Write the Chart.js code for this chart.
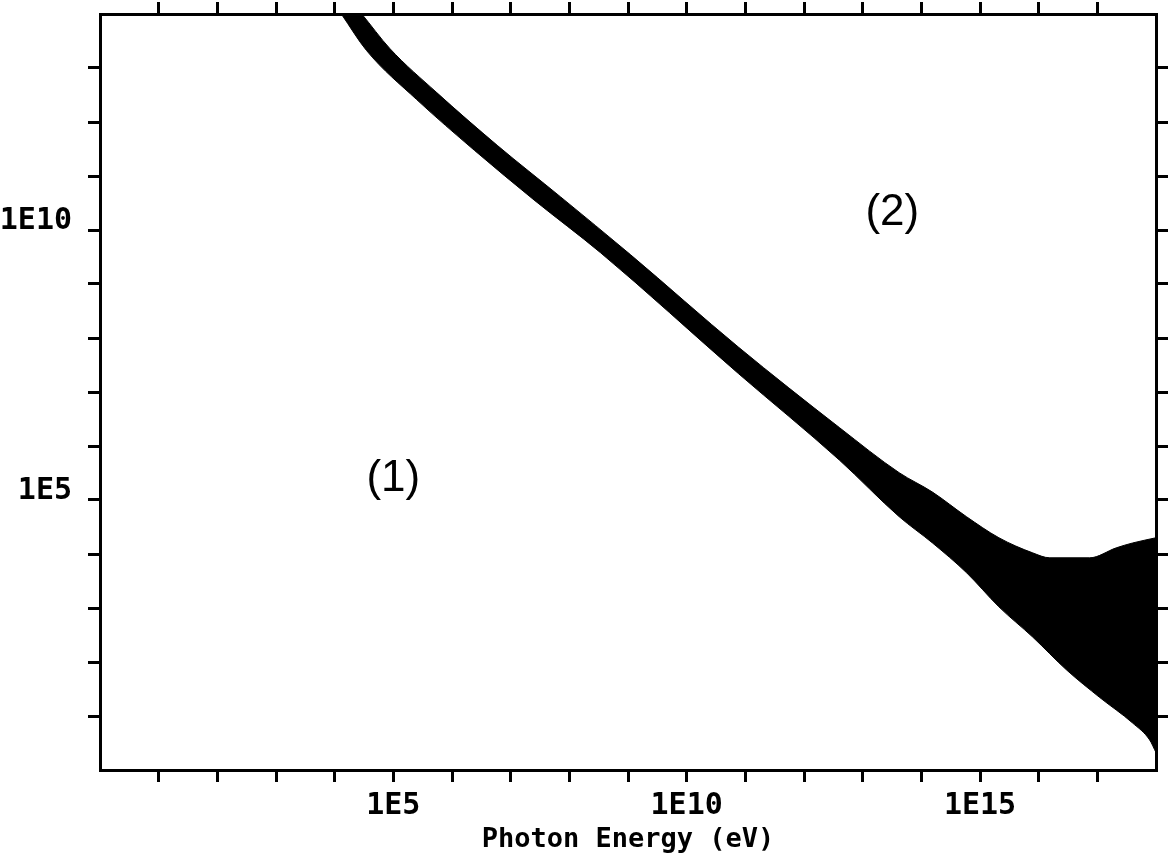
<!DOCTYPE html>
<html>
<head>
<meta charset="utf-8">
<title>Photon Energy</title>
<script src="https://cdn.jsdelivr.net/npm/chart.js@4.4.1/dist/chart.umd.min.js"></script>
<style>
  html, body { margin: 0; padding: 0; background: #fff; }
  #wrap { width: 1172px; height: 865px; }
</style>
</head>
<body>
<div id="wrap"><canvas id="chart"></canvas></div>
<script>
// upper edge of the black band (x = photon energy in eV)
var upperEnergy = [1.3e4, 2.9e4, 8.7e4, 5.5e5, 5.9e6, 7.1e7, 1.1e9, 7.6e10, 4.0e12, 4.2e13,
                   1.55e14, 5.9e14, 2.1e15, 7.9e15, 1.55e16, 7.4e16, 2.1e17, 4.0e17, 1e18];
var upperValue  = [2.8e14, 1e14, 2.3e13, 3.5e12, 3.7e11, 4.1e10, 3.5e9, 6.8e7, 2.2e6, 3.2e5,
                   1.4e5, 4.9e4, 2.0e4, 1.05e4, 8.5e3, 8.5e3, 1.3e4, 1.6e4, 2.0e4];

// lower edge of the band
var lowerEnergy = [1.3e4, 3.5e4, 2.5e5, 2.4e6, 2.5e7, 3.4e8, 7.6e10, 4.0e12, 4.2e13, 1.55e14,
                   5.9e14, 2.1e15, 7.9e15, 3.0e16, 1.1e17, 4.0e17, 7.8e17, 1e18];
var lowerValue  = [1e14, 2.1e13, 2.6e12, 3.0e11, 3.6e10, 3.8e9, 2.2e7, 5.5e5, 4.9e4, 1.6e4,
                   4.5e3, 1.05e3, 290, 71, 22, 7.4, 3.6, 2.1];

// tick marks every decade, text only on a few
var xDecades = [1e1, 1e2, 1e3, 1e4, 1e5, 1e6, 1e7, 1e8, 1e9, 1e10, 1e11, 1e12, 1e13, 1e14, 1e15, 1e16, 1e17];
var yDecades = [1e1, 1e2, 1e3, 1e4, 1e5, 1e6, 1e7, 1e8, 1e9, 1e10, 1e11, 1e12, 1e13];
var labeledValues = [1e5, 1e10, 1e15];
var labeledText = ['1E5', '1E10', '1E15'];

// region marks
var regionText = ['(1)', '(2)'];
var regionEnergy = [1e5, 3.2e13];
var regionValue = [2.5e5, 2.1e10];

function toPoints(xs, ys) {
    var pts = [];
    for (var i = 0; i < xs.length; i++) {
        pts.push({ x: xs[i], y: ys[i] });
    }
    return pts;
}

function tickText(value) {
    var i = labeledValues.indexOf(value);
    return i >= 0 ? labeledText[i] : '';
}

var monoFamily = '"DejaVu Sans Mono", "Liberation Mono", monospace';
var labelFont = { family: monoFamily, weight: 'bold', size: 30 };

function makeAxis(position, min, max, decades, size) {
    return {
        type: 'logarithmic',
        position: position,
        min: min,
        max: max,
        afterBuildTicks: function (axis) {
            axis.ticks = decades.map(function (v) { return { value: v }; });
        },
        afterFit: function (axis) {
            if (axis.isHorizontal()) {
                axis.height = size;
            } else {
                axis.width = size;
            }
            // keep the plot box fixed, labels may hang over the edges
            axis.paddingTop = 0;
            axis.paddingBottom = 0;
            axis.paddingLeft = 0;
            axis.paddingRight = 0;
        },
        border: { display: true, color: '#000', width: 3 },
        grid: {
            drawOnChartArea: false,
            drawTicks: true,
            tickLength: 12,
            tickWidth: 3,
            tickColor: '#000',
            color: '#000',
            lineWidth: 3
        },
        ticks: { display: false }
    };
}

var xAxis = makeAxis('bottom', 1, 1e18, xDecades, 95);
xAxis.ticks = {
    display: true,
    autoSkip: false,
    maxRotation: 0,
    minRotation: 0,
    padding: 6,
    color: '#000',
    font: labelFont,
    callback: tickText
};
xAxis.title = {
    display: true,
    text: 'Photon Energy (eV)',
    color: '#000',
    font: { family: monoFamily, weight: 'bold', size: 27 },
    padding: { top: 0, bottom: 9 }
};

var yAxis = makeAxis('left', 1, 1e14, yDecades, 100);
yAxis.ticks = {
    display: true,
    autoSkip: false,
    padding: 16,
    labelOffset: -9,
    color: '#000',
    font: labelFont,
    callback: tickText
};

var regionLabels = {
    id: 'regionLabels',
    afterDatasetsDraw: function (chart) {
        var ctx = chart.ctx;
        var x = chart.scales.x;
        var y = chart.scales.y;
        ctx.save();
        ctx.font = '44px "Liberation Sans", Arial, sans-serif';
        ctx.fillStyle = '#000';
        ctx.textAlign = 'center';
        ctx.textBaseline = 'middle';
        for (var i = 0; i < regionText.length; i++) {
            ctx.fillText(regionText[i], x.getPixelForValue(regionEnergy[i]), y.getPixelForValue(regionValue[i]));
        }
        ctx.restore();
    }
};

var ctx = document.getElementById('chart').getContext('2d');
var chart = new Chart(ctx, {
    type: 'line',
    data: {
        datasets: [
            {
                label: 'upper',
                data: toPoints(upperEnergy, upperValue),
                borderColor: '#000',
                backgroundColor: '#000',
                borderWidth: 1,
                pointRadius: 0,
                cubicInterpolationMode: 'monotone',
                fill: '+1'
            },
            {
                label: 'lower',
                data: toPoints(lowerEnergy, lowerValue),
                borderColor: '#000',
                borderWidth: 1,
                pointRadius: 0,
                cubicInterpolationMode: 'monotone',
                fill: false
            }
        ]
    },
    options: {
        responsive: true,
        maintainAspectRatio: false,
        animation: false,
        layout: { padding: 0 },
        plugins: {
            legend: { display: false },
            tooltip: { enabled: false }
        },
        scales: {
            x: xAxis,
            x2: makeAxis('top', 1, 1e18, xDecades, 14),
            y: yAxis,
            y2: makeAxis('right', 1, 1e14, yDecades, 16)
        }
    },
    plugins: [regionLabels]
});
</script>
</body>
</html>
